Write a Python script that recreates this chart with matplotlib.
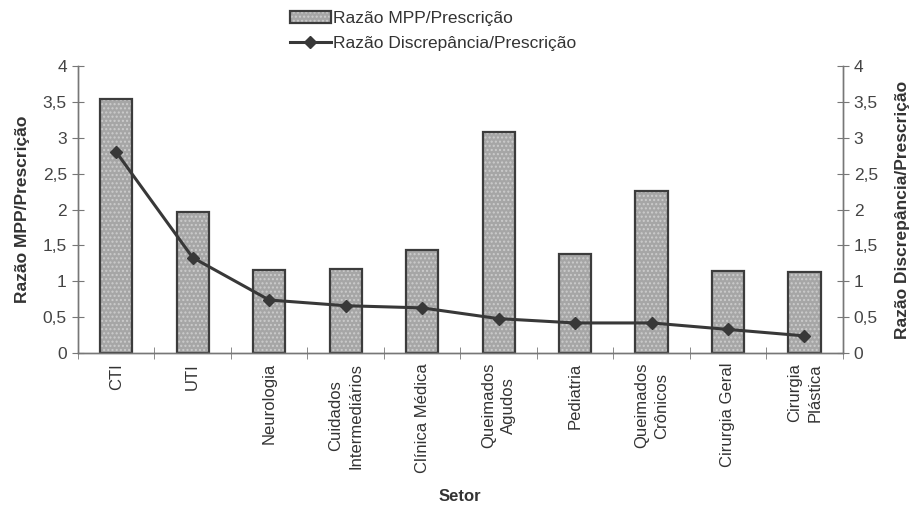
import numpy as np
import matplotlib
matplotlib.use("Agg")
import matplotlib.pyplot as plt

plt.rcParams['font.family'] = ['Liberation Sans', 'DejaVu Sans']

# Dados
setores = ["CTI", "UTI", "Neurologia", "Cuidados\nIntermediários", "Clínica Médica",
           "Queimados\nAgudos", "Pediatria", "Queimados\nCrônicos", "Cirurgia Geral",
           "Cirurgia\nPlástica"]
razao_mpp = [3.54, 1.97, 1.16, 1.17, 1.44, 3.08, 1.38, 2.26, 1.14, 1.13]
razao_disc = [2.80, 1.33, 0.74, 0.66, 0.63, 0.48, 0.42, 0.42, 0.33, 0.24]
yticks = [0, 0.5, 1, 1.5, 2, 2.5, 3, 3.5, 4]
ytick_labels = ["0", "0,5", "1", "1,5", "2", "2,5", "3", "3,5", "4"]

fig = plt.figure(figsize=(9.13, 5.11), dpi=100)
ax = fig.add_axes([0.0854, 0.309, 0.8376, 0.562])
ax2 = ax.twinx()

x = np.arange(len(setores))
barras = ax.bar(x, razao_mpp, width=0.42, color='#a6a6a6', edgecolor='#3c3c3c',
                linewidth=1.6, hatch='....', label='Razão MPP/Prescrição')
for b in barras:
    b._hatch_color = (0.8, 0.8, 0.8, 1)

linha, = ax2.plot(x, razao_disc, color='#383838', linewidth=2.2, marker='D',
                  markersize=6, label='Razão Discrepância/Prescrição')

for a in (ax, ax2):
    a.set_ylim(0, 4)
    a.set_yticks(yticks)
    a.set_yticklabels(ytick_labels, fontsize=12.5, color='#444444')
    a.spines['top'].set_visible(False)
    for s in ('left', 'right', 'bottom'):
        a.spines[s].set_color('#777777')
        a.spines[s].set_linewidth(1.0)
    a.tick_params(axis='y', direction='inout', length=8, color='#777777', pad=4)

ax.set_xlim(-0.5, len(setores) - 0.5)
ax.set_xticks(x)
ax.set_xticklabels(setores, rotation=90, fontsize=12, color='#333333',
                   multialignment='center', va='top', linespacing=1.45)
ax.tick_params(axis='x', length=0, pad=7)
ax.set_xticks(np.arange(len(setores) + 1) - 0.5, minor=True)
ax.tick_params(axis='x', which='minor', direction='inout', length=8, color='#777777')

ax.set_ylabel('Razão MPP/Prescrição', fontsize=12.5, fontweight='bold', color='#333333',
              labelpad=9)
ax2.set_ylabel('Razão Discrepância/Prescrição', fontsize=12.5, fontweight='bold',
               color='#333333', rotation=90, labelpad=12)
ax.set_xlabel('Setor', fontsize=12, fontweight='bold', color='#333333', labelpad=12)

fig.legend([barras, linha], ['Razão MPP/Prescrição', 'Razão Discrepância/Prescrição'],
           loc='upper left', bbox_to_anchor=(0.3, 1.01), frameon=False,
           fontsize=12.5, handlelength=2.4, handletextpad=0.1, labelspacing=0.6,
           labelcolor='#333333')

fig.savefig('out.png', dpi=100)
